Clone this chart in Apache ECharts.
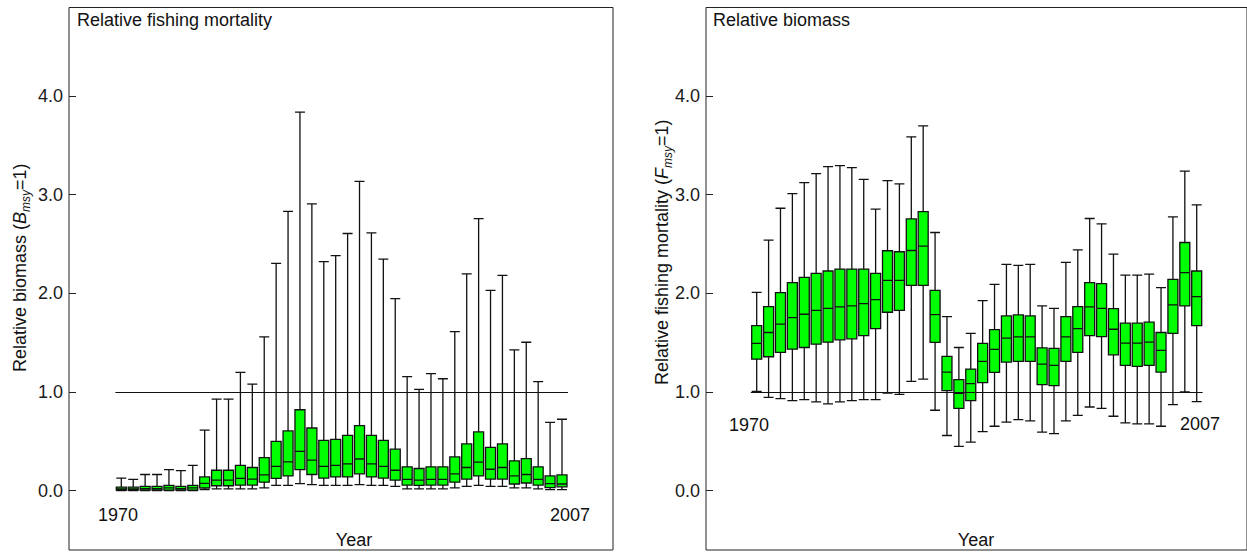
<!DOCTYPE html>
<html>
<head>
<meta charset="utf-8">
<script src="https://cdn.jsdelivr.net/npm/echarts@6/dist/echarts.min.js"></script>
<style>
html,body{margin:0;padding:0;background:#fff;}
#chart{width:1247px;height:552px;}
</style>
</head>
<body>
<div id="chart"></div>
<script>
// ---- data ----
var years = [];
for (var y = 1970; y <= 2007; y++) years.push(String(y));

var yTickValues = [0, 1, 2, 3, 4];

// Left panel (title: Relative fishing mortality; y: Relative biomass)
var leftMin = [0.000,0.000,0.002,0.002,0.002,0.000,0.002,0.012,0.018,0.018,
               0.018,0.018,0.028,0.053,0.053,0.071,0.061,0.053,0.053,0.053,
               0.061,0.053,0.053,0.043,0.018,0.018,0.018,0.018,0.028,0.043,
               0.053,0.043,0.043,0.028,0.028,0.018,0.010,0.010];
var leftQ1  = [0.005,0.005,0.005,0.005,0.005,0.005,0.005,0.028,0.050,0.050,
               0.057,0.057,0.086,0.125,0.150,0.214,0.164,0.128,0.139,0.139,
               0.171,0.139,0.128,0.107,0.057,0.053,0.057,0.057,0.086,0.118,
               0.150,0.118,0.118,0.068,0.078,0.057,0.032,0.039];
var leftMed = [0.018,0.018,0.021,0.021,0.028,0.021,0.028,0.075,0.107,0.107,
               0.125,0.118,0.160,0.246,0.292,0.399,0.310,0.246,0.257,0.271,
               0.321,0.271,0.246,0.207,0.114,0.107,0.114,0.114,0.171,0.235,
               0.289,0.217,0.235,0.150,0.164,0.114,0.071,0.068];
var leftQ3  = [0.036,0.036,0.043,0.043,0.053,0.043,0.053,0.139,0.207,0.207,
               0.257,0.235,0.335,0.499,0.606,0.820,0.635,0.510,0.520,0.560,
               0.660,0.560,0.510,0.421,0.242,0.225,0.242,0.242,0.342,0.474,
               0.595,0.439,0.474,0.303,0.324,0.242,0.150,0.160];
var leftMax = [0.128,0.114,0.164,0.164,0.214,0.203,0.257,0.613,0.927,0.927,
               1.198,1.080,1.558,2.303,2.831,3.836,2.906,2.321,2.381,2.606,
               3.134,2.613,2.346,1.947,1.155,1.027,1.187,1.134,1.611,2.196,
               2.756,2.029,2.182,1.426,1.504,1.105,0.692,0.724];

// Right panel (title: Relative biomass; y: Relative fishing mortality)
var rightMin = [1.007,0.946,0.933,0.912,0.923,0.899,0.879,0.899,0.912,0.923,
                0.923,0.990,0.976,1.108,1.131,0.815,0.559,0.448,0.492,0.599,
                0.653,0.694,0.721,0.707,0.593,0.579,0.707,0.764,0.848,0.835,
                0.754,0.687,0.677,0.677,0.653,0.872,1.000,0.902];
var rightQ1  = [1.333,1.357,1.401,1.434,1.451,1.485,1.505,1.529,1.539,1.572,
                1.643,1.808,1.828,2.081,2.081,1.502,1.013,0.835,0.912,1.094,
                1.199,1.303,1.310,1.310,1.074,1.064,1.310,1.401,1.572,1.562,
                1.377,1.269,1.259,1.269,1.202,1.593,1.872,1.673];
var rightMed = [1.492,1.603,1.687,1.754,1.788,1.828,1.848,1.862,1.872,1.896,
                1.936,2.131,2.131,2.434,2.478,1.785,1.202,0.987,1.084,1.310,
                1.431,1.545,1.559,1.559,1.283,1.269,1.559,1.643,1.862,1.848,
                1.636,1.495,1.495,1.505,1.421,1.882,2.209,1.966];
var rightQ3  = [1.673,1.865,2.007,2.108,2.162,2.202,2.226,2.246,2.246,2.246,
                2.202,2.431,2.421,2.754,2.828,2.030,1.360,1.125,1.232,1.492,
                1.633,1.771,1.781,1.771,1.448,1.441,1.764,1.865,2.108,2.098,
                1.845,1.697,1.697,1.707,1.603,2.141,2.515,2.226];
var rightMax = [2.010,2.539,2.862,3.010,3.121,3.212,3.283,3.293,3.273,3.155,
                2.852,3.141,3.108,3.586,3.697,2.616,1.764,1.451,1.593,1.926,
                2.091,2.293,2.283,2.293,1.872,1.848,2.313,2.441,2.758,2.704,
                2.397,2.185,2.185,2.195,2.057,2.774,3.239,2.896];

var refLevel = 1;

// ---- build ----
function boxData(mn, q1, md, q3, mx) {
  return mn.map(function (v, i) { return [mn[i], q1[i], md[i], q3[i], mx[i]]; });
}

var FONT = 'Liberation Sans, Arial, sans-serif';
var YMIN = -0.601, YMAX = 4.896;
var TOP = 7.5, H = 542.5;

function frameYAxis(gi) {
  return {
    gridIndex: gi, type: 'value', min: YMIN, max: YMAX,
    axisLine: { show: false },
    splitLine: { show: false },
    axisTick: { show: true, inside: true, length: 7, customValues: yTickValues,
                lineStyle: { color: '#222', width: 1 } },
    axisLabel: { show: true, customValues: yTickValues, margin: 6,
                 fontFamily: FONT, fontSize: 18, color: '#1a1a1a',
                 formatter: function (v) { return v.toFixed(1); } }
  };
}
function dataYAxis(gi) {
  return { gridIndex: gi, type: 'value', min: YMIN, max: YMAX, show: false,
           splitLine: { show: false } };
}

function boxSeries(xi, data) {
  return {
    type: 'boxplot', xAxisIndex: xi, yAxisIndex: xi, data: data,
    boxWidth: [10, 10], silent: true,
    itemStyle: { color: '#00ff00', borderColor: '#111', borderWidth: 1.3 },
    emphasis: { disabled: true },
    markLine: {
      silent: true, symbol: ['none', 'none'], label: { show: false },
      lineStyle: { color: '#111', width: 1, type: 'solid' },
      data: [{ yAxis: refLevel }]
    }
  };
}

var textCol = '#111';
function txt(x, y, s, align) {
  return { type: 'text', x: x, y: y, silent: true,
           style: { text: s, font: '18px ' + FONT, fill: textCol,
                    align: align || 'left', verticalAlign: 'middle' } };
}
function yTitle(x, y, pre, sym) {
  return { type: 'text', x: x, y: y, rotation: Math.PI / 2, silent: true,
           style: {
             text: pre + ' ({it|' + sym + '}{sub|msy}=1)',
             font: '18px ' + FONT, fill: textCol, align: 'left', verticalAlign: 'middle',
             lineHeight: 24,
             rich: {
               it: { fontStyle: 'italic', fontSize: 18, fontFamily: FONT, fill: textCol, lineHeight: 24 },
               sub: { fontStyle: 'italic', fontSize: 12, fontFamily: FONT, fill: textCol,
                      lineHeight: 12, verticalAlign: 'bottom' }
             }
           } };
}

var chart = echarts.init(document.getElementById('chart'), null, { renderer: 'svg' });
chart.setOption({
  animation: false,
  backgroundColor: '#fff',
  grid: [
    { left: 69, top: TOP, width: 544, height: H, show: true, borderColor: '#222', borderWidth: 1, backgroundColor: 'transparent' },
    { left: 115.35, top: TOP, width: 452.6, height: H },
    { left: 706, top: TOP, width: 544, height: H, show: true, borderColor: '#222', borderWidth: 1, backgroundColor: 'transparent' },
    { left: 750.75, top: TOP, width: 451.9, height: H }
  ],
  xAxis: [
    { gridIndex: 0, type: 'value', show: false, min: 0, max: 1 },
    { gridIndex: 1, type: 'category', data: years, show: false },
    { gridIndex: 2, type: 'value', show: false, min: 0, max: 1 },
    { gridIndex: 3, type: 'category', data: years, show: false }
  ],
  yAxis: [frameYAxis(0), dataYAxis(1), frameYAxis(2), dataYAxis(3)],
  series: [
    boxSeries(1, boxData(leftMin, leftQ1, leftMed, leftQ3, leftMax)),
    boxSeries(3, boxData(rightMin, rightQ1, rightMed, rightQ3, rightMax))
  ],
  graphic: [
    txt(77, 20, 'Relative fishing mortality'),
    txt(713, 20, 'Relative biomass'),
    txt(118, 515, years[0], 'center'),
    txt(570, 515, years[years.length - 1], 'center'),
    txt(354, 540, 'Year', 'center'),
    txt(749, 425, years[0], 'center'),
    txt(1200, 424, years[years.length - 1], 'center'),
    txt(976, 540, 'Year', 'center'),
    yTitle(19.5, 372, 'Relative biomass', 'B'),
    yTitle(662, 385, 'Relative fishing mortality', 'F')
  ]
});
</script>
</body>
</html>
